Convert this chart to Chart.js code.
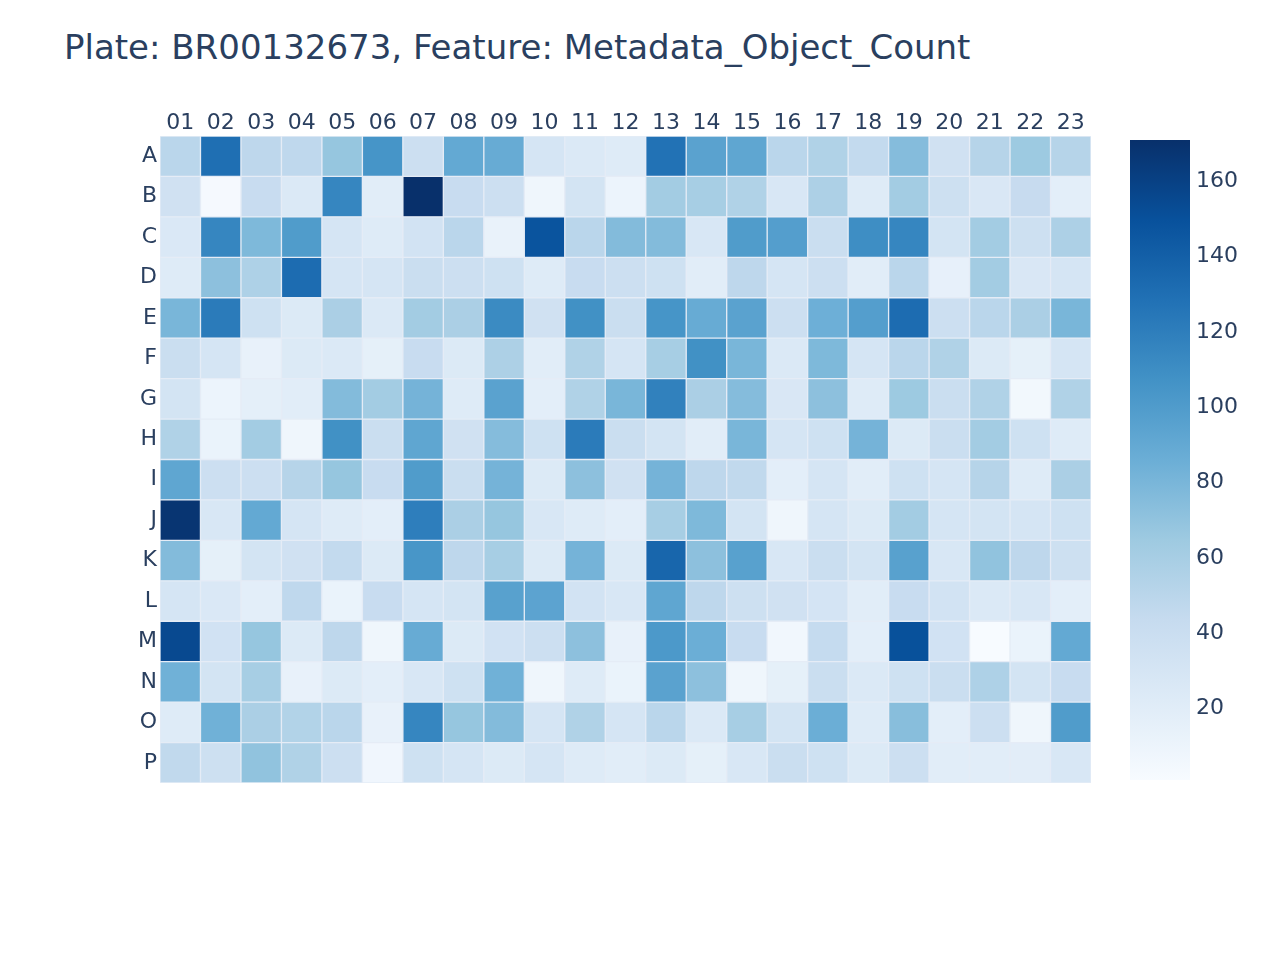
<!DOCTYPE html>
<html>
<head>
<meta charset="utf-8">
<script src="https://cdn.jsdelivr.net/npm/chart.js@4.4.1/dist/chart.umd.min.js"></script>
<style>
  html, body { margin: 0; padding: 0; background: #fff; }
  #wrap { position: relative; width: 1280px; height: 960px; overflow: hidden; }
  #title { position: absolute; left: 64px; top: 27px; font: 34px "DejaVu Sans", sans-serif; color: #2a3f5f; white-space: nowrap; }
  #heat { position: absolute; left: 0; top: 0; }
  #bar { position: absolute; left: 1100px; top: 100px; }
</style>
</head>
<body>
<div id="wrap">
  <div id="title">Plate: BR00132673, Feature: Metadata_Object_Count</div>
  <canvas id="heat" width="1280" height="960"></canvas>
  <canvas id="bar" width="180" height="720"></canvas>
</div>
<script>
const rows = ['A', 'B', 'C', 'D', 'E', 'F', 'G', 'H', 'I', 'J', 'K', 'L', 'M', 'N', 'O', 'P'];
const cols = ['01', '02', '03', '04', '05', '06', '07', '08', '09', '10', '11', '12',
  '13', '14', '15', '16', '17', '18', '19', '20', '21', '22', '23'];

// object counts per well
const rowA = [50, 130, 48, 47, 68, 105, 38, 90, 88, 30, 25, 22, 128, 95, 92, 50, 55, 45, 75, 35, 52, 65, 52];
const rowB = [35, 3, 42, 25, 115, 20, 171, 42, 38, 8, 32, 10, 62, 60, 55, 28, 57, 22, 62, 37, 27, 43, 18];
const rowC = [26, 115, 78, 100, 30, 22, 33, 50, 13, 148, 50, 76, 76, 28, 100, 98, 40, 110, 115, 32, 62, 37, 57];
const rowD = [22, 72, 56, 132, 30, 30, 40, 38, 36, 22, 42, 38, 36, 20, 48, 30, 38, 20, 50, 15, 62, 27, 30];
const rowE = [80, 122, 36, 24, 58, 25, 62, 58, 112, 35, 108, 40, 105, 88, 95, 38, 85, 98, 132, 38, 50, 58, 80];
const rowF = [40, 30, 14, 24, 25, 16, 42, 24, 57, 20, 55, 30, 60, 108, 80, 25, 78, 30, 50, 55, 24, 16, 30];
const rowG = [32, 10, 17, 20, 76, 62, 82, 22, 95, 18, 55, 80, 118, 58, 75, 27, 72, 22, 65, 40, 55, 5, 55];
const rowH = [55, 12, 62, 8, 108, 40, 92, 35, 75, 36, 122, 40, 32, 20, 80, 30, 36, 82, 24, 40, 62, 36, 22];
const rowI = [92, 38, 38, 52, 68, 42, 100, 40, 82, 24, 72, 35, 82, 48, 46, 18, 30, 20, 36, 30, 52, 22, 58];
const rowJ = [168, 28, 90, 30, 22, 18, 120, 58, 68, 28, 22, 18, 60, 78, 32, 8, 30, 24, 62, 30, 32, 30, 36];
const rowK = [76, 16, 32, 35, 45, 24, 104, 48, 60, 24, 82, 24, 136, 72, 96, 28, 40, 32, 96, 28, 70, 48, 37];
const rowL = [30, 26, 18, 47, 12, 42, 30, 32, 96, 94, 33, 28, 92, 48, 37, 35, 31, 20, 42, 33, 25, 28, 18];
const rowM = [155, 34, 68, 24, 48, 8, 88, 24, 34, 38, 72, 14, 102, 86, 42, 6, 44, 18, 150, 34, 1, 12, 90];
const rowN = [84, 32, 60, 14, 24, 18, 28, 36, 84, 8, 22, 12, 95, 72, 8, 16, 40, 25, 36, 40, 56, 32, 42];
const rowO = [22, 84, 58, 54, 50, 14, 115, 68, 76, 30, 55, 30, 50, 25, 60, 32, 86, 22, 74, 18, 38, 8, 100];
const rowP = [46, 37, 70, 55, 38, 7, 36, 30, 24, 30, 22, 20, 24, 16, 28, 40, 36, 24, 38, 20, 20, 19, 28];

const grid = [rowA, rowB, rowC, rowD, rowE, rowF, rowG, rowH, rowI, rowJ, rowK, rowL, rowM, rowN, rowO, rowP];
const colorbarTicks = [20, 40, 60, 80, 100, 120, 140, 160];

// plotly "Blues"
const blues = [
  [0, [247, 251, 255]], [0.125, [222, 235, 247]], [0.25, [198, 219, 239]],
  [0.375, [158, 202, 225]], [0.5, [107, 174, 214]], [0.625, [66, 146, 198]],
  [0.75, [33, 113, 181]], [0.875, [8, 81, 156]], [1, [8, 48, 107]]
];

const all = grid.flat();
const zmin = Math.min(...all);
const zmax = Math.max(...all);

function blueAt(t) {
  t = Math.max(0, Math.min(1, t));
  for (let i = 1; i < blues.length; i++) {
    const [t1, c1] = blues[i];
    const [t0, c0] = blues[i - 1];
    if (t <= t1) {
      const f = (t - t0) / (t1 - t0);
      const c = c0.map((v, j) => Math.round(v + (c1[j] - v) * f));
      return `rgb(${c[0]},${c[1]},${c[2]})`;
    }
  }
  return 'rgb(8,48,107)';
}
const colorFor = (v) => blueAt((v - zmin) / (zmax - zmin));

const fontTick = { family: 'DejaVu Sans', size: 22 };
const textColor = '#2a3f5f';
const plotBg = '#E5ECF6';

const bgPlugin = {
  id: 'plotBg',
  beforeDatasetsDraw(chart) {
    const { ctx, chartArea: a } = chart;
    ctx.save();
    ctx.fillStyle = plotBg;
    ctx.fillRect(a.left, a.top, a.right - a.left, a.bottom - a.top);
    ctx.restore();
  }
};

// one dataset per plate row, bottom (P) to top (A), all in one column slot
const datasets = rows.map((r, k) => {
  const ri = rows.length - 1 - k;
  return {
    label: rows[ri],
    data: cols.map(() => [k, k + 1]),
    backgroundColor: grid[ri].map(colorFor),
    borderColor: plotBg,
    borderWidth: 1,
    borderSkipped: false,
    barPercentage: 1,
    categoryPercentage: 1
  };
});

new Chart(document.getElementById('heat'), {
  type: 'bar',
  data: { labels: cols, datasets },
  plugins: [bgPlugin],
  options: {
    responsive: false,
    animation: false,
    layout: { padding: { left: 110, top: 96, right: 189, bottom: 177 } },
    plugins: { legend: { display: false }, tooltip: { enabled: false }, title: { display: false } },
    scales: {
      x: {
        position: 'top',
        stacked: true,
        grid: { display: false, drawTicks: false },
        border: { display: false },
        ticks: { color: textColor, font: fontTick, padding: 0, maxRotation: 0, autoSkip: false },
        afterFit(s) { s.height = 40; }
      },
      y: {
        min: 0,
        max: rows.length,
        stacked: false,
        grid: { display: false, drawTicks: false },
        border: { display: false },
        afterBuildTicks(s) { s.ticks = rows.map((r, k) => ({ value: k + 0.5 })); },
        ticks: {
          color: textColor,
          font: fontTick,
          padding: 3,
          callback: (v) => rows[rows.length - 1 - Math.floor(v)]
        },
        afterFit(s) { s.width = 50; }
      }
    }
  }
});

new Chart(document.getElementById('bar'), {
  type: 'bar',
  data: {
    labels: [''],
    datasets: [{
      data: [[zmin, zmax]],
      barPercentage: 1,
      categoryPercentage: 1,
      borderWidth: 0,
      backgroundColor(c) {
        const a = c.chart.chartArea;
        if (!a) return '#ccc';
        const g = c.chart.ctx.createLinearGradient(0, a.bottom, 0, a.top);
        blues.forEach(([t, rgb]) => g.addColorStop(t, `rgb(${rgb.join(',')})`));
        return g;
      }
    }]
  },
  options: {
    responsive: false,
    animation: false,
    layout: { padding: { left: 30, top: 40, right: 0, bottom: 40 } },
    plugins: { legend: { display: false }, tooltip: { enabled: false } },
    scales: {
      x: { display: false },
      y: {
        position: 'right',
        min: zmin,
        max: zmax,
        grid: { display: false, drawTicks: false },
        border: { display: false },
        afterBuildTicks(s) { s.ticks = colorbarTicks.map((v) => ({ value: v })); },
        ticks: { color: textColor, font: fontTick, padding: 6 },
        afterFit(s) { s.width = 90; }
      }
    }
  }
});
</script>
</body>
</html>
